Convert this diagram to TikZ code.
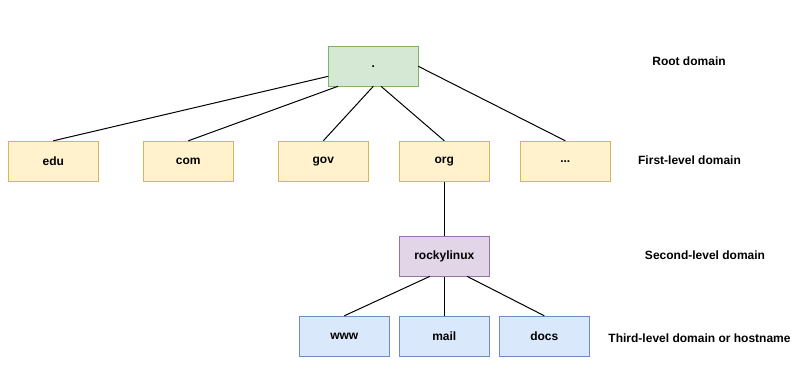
\documentclass[tikz,border=0pt]{standalone}
\usepackage{fontspec}
\setmainfont{Liberation Sans}
\definecolor{gfill}{HTML}{D5E8D4}\definecolor{gdraw}{HTML}{82B366}
\definecolor{yfill}{HTML}{FFF2CC}\definecolor{ydraw}{HTML}{D6B656}
\definecolor{pfill}{HTML}{E1D5E7}\definecolor{pdraw}{HTML}{9673A6}
\definecolor{bfill}{HTML}{DAE8FC}\definecolor{bdraw}{HTML}{6C8EBF}
\begin{document}
\begin{tikzpicture}[x=0.75pt,y=-0.75pt,
  box/.style={draw,line width=0.75pt,minimum width=67.5pt,minimum height=30pt,inner sep=0pt,font=\fontsize{9}{11}\selectfont\bfseries},
  rootbox/.style={box,fill=gfill,draw=gdraw},
  firstbox/.style={box,fill=yfill,draw=ydraw},
  secondbox/.style={box,fill=pfill,draw=pdraw},
  thirdbox/.style={box,fill=bfill,draw=bdraw},
  lbl/.style={font=\fontsize{9}{11}\selectfont\bfseries,inner sep=0pt},
  edge/.style={line width=0.75pt}]
\useasboundingbox (0,0) rectangle (809,391);
\node[rootbox] (root) at (373.3,66.3) {.};
\node[firstbox] (edu) at (53.3,161.3) {edu};
\node[firstbox] (com) at (188.3,161.3) {com};
\node[firstbox] (gov) at (323.3,161.3) {gov};
\node[firstbox] (org) at (444.3,161.3) {org};
\node[firstbox] (dots) at (565.3,161.3) {...};
\node[secondbox] (rocky) at (444.3,256.3) {rockylinux};
\node[thirdbox] (www) at (344.3,336.3) {www};
\node[thirdbox] (mail) at (444.3,336.3) {mail};
\node[thirdbox] (docs) at (544.3,336.3) {docs};
\node[lbl] (l1) at (689,61) {Root domain};
\node[lbl] (l2) at (689.5,160) {First-level domain};
\node[lbl] (l3) at (705,255.5) {Second-level domain};
\node[lbl] (l4) at (699.5,338.5) {Third-level domain or hostname};
\coordinate (r1) at (328.3,76.3);
\coordinate (r2) at (338,86.3);
\coordinate (r3) at (373.3,86.3);
\coordinate (r4) at (381,86.3);
\coordinate (r5) at (418.3,66.3);
\coordinate (k1) at (430,276.3);
\coordinate (k3) at (467,276.3);
\draw[edge] (r1) -- (edu.north);
\draw[edge] (r2) -- (com.north);
\draw[edge] (r3) -- (gov.north);
\draw[edge] (r4) -- (org.north);
\draw[edge] (r5) -- (dots.north);
\draw[edge] (org.south) -- (rocky.north);
\draw[edge] (k1) -- (www.north);
\draw[edge] (rocky.south) -- (mail.north);
\draw[edge] (k3) -- (docs.north);
\end{tikzpicture}
\end{document}
